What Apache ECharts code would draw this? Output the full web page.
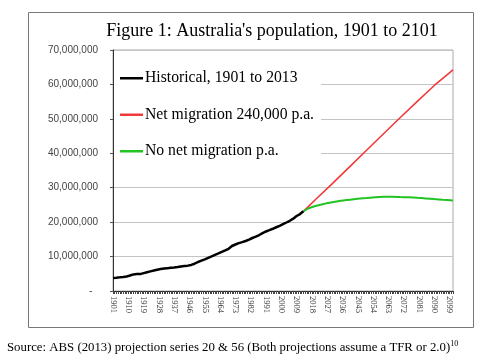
<!DOCTYPE html>
<html>
<head>
<meta charset="utf-8">
<script src="https://cdn.jsdelivr.net/npm/echarts@6/dist/echarts.min.js"></script>
<style>
  html, body { margin: 0; padding: 0; background: #fff; }
  #chart { width: 500px; height: 359px; }
</style>
</head>
<body>
<div id="chart"></div>
<script>
// ---- Data ----
const firstYear = 1901;
const lastYear = 2101;
const years = [];
for (let y = firstYear; y <= lastYear; y++) years.push(String(y));

// Historical population 1901..2013 (millions), one value per year
const historicalYears = [];
for (let y = 1901; y <= 2013; y++) historicalYears.push(String(y));
const historicalValues = [
  3.788, 3.825, 3.862, 3.912, 3.967, 4.020, 4.092, 4.162, 4.232, 4.323,
  4.490, 4.653, 4.819, 4.940, 4.931, 4.875, 4.908, 5.030, 5.194, 5.359,
  5.455, 5.573, 5.697, 5.819, 5.937, 6.056, 6.188, 6.304, 6.396, 6.469,
  6.527, 6.577, 6.630, 6.682, 6.733, 6.778, 6.830, 6.893, 6.956, 7.033,
  7.110, 7.179, 7.239, 7.301, 7.366, 7.431, 7.579, 7.710, 7.924, 8.198,
  8.422, 8.636, 8.815, 8.986, 9.200, 9.421, 9.640, 9.842, 10.056, 10.275,
  10.508, 10.700, 10.906, 11.122, 11.341, 11.599, 11.799, 12.009, 12.263, 12.507,
  13.067, 13.304, 13.505, 13.723, 13.893, 14.033, 14.192, 14.359, 14.516, 14.695,
  14.923, 15.184, 15.394, 15.579, 15.788, 16.018, 16.264, 16.532, 16.814, 17.065,
  17.284, 17.495, 17.667, 17.855, 18.072, 18.311, 18.518, 18.711, 18.926, 19.153,
  19.413, 19.651, 19.896, 20.127, 20.394, 20.698, 21.015, 21.384, 21.779, 22.032,
  22.340, 22.742, 23.146
];

// Projection: net migration 240,000 p.a. (millions)
const migrationYears  = ['2013', '2020', '2030', '2040', '2050', '2060', '2070', '2080', '2090', '2101'];
const migrationValues = [23.146, 26.5, 31.2, 36.0, 40.8, 45.6, 50.4, 55.1, 59.7, 64.2];

// Projection: no net migration (millions)
const noMigrationYears  = ['2013', '2016', '2020', '2025', '2030', '2035', '2040', '2045', '2050', '2055', '2060', '2065', '2070', '2075', '2080', '2085', '2090', '2095', '2101'];
const noMigrationValues = [23.146, 24.0, 24.7, 25.3, 25.8, 26.2, 26.5, 26.8, 27.0, 27.2, 27.35, 27.4, 27.3, 27.2, 27.05, 26.9, 26.7, 26.5, 26.3];

const seriesNames = ['Historical, 1901 to 2013', 'Net migration 240,000 p.a.', 'No net migration p.a.'];
const titleText = "Figure 1: Australia's population, 1901 to 2101";
const sourceText = 'Source: ABS (2013) projection series 20 & 56 (Both projections assume a TFR or 2.0)';
const sourceNote = '10';

// ---- Helpers ----
const M = 1000000;
function pairs(xs, vs) { return xs.map((x, i) => [x, Math.round(vs[i] * M)]); }
function fmt(v) {
  if (v === 0) return '-  ';
  return String(v).replace(/\B(?=(\d{3})+(?!\d))/g, ',');
}

const chart = echarts.init(document.getElementById('chart'), null, { renderer: 'canvas' });
chart.setOption({
  animation: false,
  backgroundColor: '#ffffff',
  title: {
    text: titleText,
    left: 267, textAlign: 'center',
    top: 17,
    textStyle: { fontFamily: 'Liberation Serif', fontSize: 18, fontWeight: 'normal', color: '#000' }
  },
  grid: {
    left: 113, top: 50, right: 47, bottom: 68,
    show: true, borderColor: '#aaaaaa', borderWidth: 1, backgroundColor: 'transparent'
  },
  legend: {
    orient: 'vertical',
    left: 114, top: 51,
    padding: [19, 7, 13, 6],
    backgroundColor: '#ffffff',
    icon: 'rect',
    itemWidth: 23, itemHeight: 2.5, itemGap: 20,
    data: seriesNames,
    textStyle: { fontFamily: 'Liberation Serif', fontSize: 15.7, color: '#000', padding: [0, 0, 0, -3], lineHeight: 16.5 }
  },
  xAxis: {
    type: 'category',
    data: years,
    boundaryGap: false,
    axisLine: { lineStyle: { color: '#222', width: 1 } },
    axisTick: { show: true, interval: 0, length: 3, lineStyle: { color: '#444' } },
    axisLabel: {
      interval: 8, rotate: -90, margin: 5,
      fontFamily: 'Liberation Serif', fontSize: 8.5, color: '#333'
    },
    splitLine: { show: false }
  },
  yAxis: {
    type: 'value',
    min: 0, max: 70 * M, interval: 10 * M,
    axisLine: { show: true, lineStyle: { color: '#333', width: 1 } },
    axisTick: { show: true, length: 3, lineStyle: { color: '#555' } },
    axisLabel: {
      formatter: fmt, margin: 15,
      fontFamily: 'Liberation Sans', fontSize: 10, color: '#444'
    },
    splitLine: { show: true, lineStyle: { color: '#c4c4c4', width: 1 } }
  },
  series: [
    {
      name: seriesNames[0], type: 'line', data: pairs(historicalYears, historicalValues),
      symbol: 'none', lineStyle: { color: '#000000', width: 2.5 }, itemStyle: { color: '#000000' }, z: 5
    },
    {
      name: seriesNames[1], type: 'line', data: pairs(migrationYears, migrationValues),
      symbol: 'none', smooth: false, lineStyle: { color: '#f23a3a', width: 1.6 }, itemStyle: { color: '#f23a3a' }, z: 4
    },
    {
      name: seriesNames[2], type: 'line', data: pairs(noMigrationYears, noMigrationValues),
      symbol: 'none', smooth: 0.3, lineStyle: { color: '#22c322', width: 2 }, itemStyle: { color: '#22c322' }, z: 4
    }
  ],
  graphic: [
    {
      type: 'rect', silent: true, z: -1,
      shape: { x: 28.5, y: 12.5, width: 445, height: 315 },
      style: { fill: 'none', stroke: '#777777', lineWidth: 1 }
    },
    {
      type: 'text', left: 7, top: 340, silent: true,
      style: {
        text: '{a|' + sourceText + '}{s|' + sourceNote + '}',
        rich: {
          a: { fontFamily: 'Liberation Serif', fontSize: 12.8, fill: '#000', lineHeight: 16 },
          s: { fontFamily: 'Liberation Serif', fontSize: 8, fill: '#000', verticalAlign: 'top', lineHeight: 16, padding: [0, 0, 6, 0] }
        }
      }
    }
  ]
});
</script>
</body>
</html>
